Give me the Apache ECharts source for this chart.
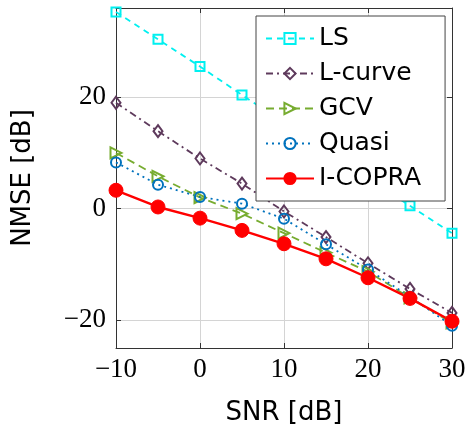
<!DOCTYPE html>
<html><head><meta charset="utf-8">
<script src="https://cdn.jsdelivr.net/npm/echarts@6/dist/echarts.min.js"></script>
<style>html,body{margin:0;padding:0;background:#fff}#c{width:467px;height:427px}</style>
</head><body><div id="c"></div>
<script>
const snr = [-10, -5, 0, 5, 10, 15, 20, 25, 30];
const lsValues = [35.3, 30.4, 25.5, 20.4, 15.4, 10.4, 5.5, 0.5, -4.4];
const lcurveValues = [19.0, 13.9, 9.0, 4.5, -0.5, -5.1, -9.8, -14.4, -18.7];
const gcvValues = [10.0, 5.8, 2.0, -0.9, -4.4, -7.9, -11.3, -16.0, -20.5];
const quasiValues = [8.3, 4.3, 2.1, 0.9, -1.8, -6.4, -10.9, -15.8, -21.0];
const icopraValues = [3.3, 0.3, -1.7, -3.9, -6.3, -9.0, -12.4, -16.1, -20.2];
const seriesNames = ['LS', 'L-curve', 'GCV', 'Quasi', 'I-COPRA'];
const yTicks = [-20, 0, 20];
const xRange = [-10, 30];
const yRange = [-25, 36];

const pairs = v => snr.map((x, i) => [x, v[i]]);
const fmt = v => String(v).replace('-', '\u2212');
const axisColor = '#333';
const tickFont = {fontFamily: 'Liberation Serif', fontSize: 27, color: '#000'};

const chart = echarts.init(document.getElementById('c'), null, {renderer: 'canvas'});
function mk(name, data, color, lineType, symbol, size, opts) {
  return Object.assign({
    name, type: 'line', data: pairs(data), xAxisIndex: 0, yAxisIndex: 0,
    symbol, symbolSize: size, showSymbol: true,
    lineStyle: {color, width: 1.8, type: lineType},
    itemStyle: {color: 'rgba(255,255,255,0)', borderColor: color, borderWidth: 2},
    emphasis: {disabled: true}, animation: false
  }, opts || {});
}
chart.setOption({
  animation: false,
  grid: {left: 116, right: 15, top: 8, bottom: 79, outerBoundsMode: 'none', containLabel: false},
  legend: {
    orient: 'vertical', left: 256, top: 16,
    data: seriesNames,
    padding: [10, 24, 10, 9],
    itemWidth: 48, itemHeight: 14, itemGap: 10,
    borderColor: '#444', borderWidth: 1, backgroundColor: '#fff',
    textStyle: {fontFamily: 'DejaVu Sans', fontSize: 25, lineHeight: 25, color: '#000'},
    selectedMode: false
  },
  xAxis: [{
    type: 'value', min: xRange[0], max: xRange[1], interval: 10,
    name: 'SNR [dB]', nameLocation: 'middle', nameGap: 52,
    nameTextStyle: {fontFamily: 'DejaVu Sans', fontSize: 26, color: '#000'},
    axisLine: {show: true, onZero: false, lineStyle: {color: axisColor, width: 1}},
    axisTick: {show: true, inside: true, length: 5, lineStyle: {color: axisColor}},
    axisLabel: Object.assign({margin: 8, formatter: fmt}, tickFont),
    splitLine: {show: true, lineStyle: {color: '#d4d4d4', width: 1}}
  }, {
    type: 'value', position: 'top', min: xRange[0], max: xRange[1], interval: 10,
    axisLine: {show: true, onZero: false, lineStyle: {color: axisColor, width: 1}},
    axisTick: {show: true, inside: true, length: 5, lineStyle: {color: axisColor}},
    axisLabel: {show: false}, splitLine: {show: false}
  }],
  yAxis: [{
    type: 'value', min: yRange[0], max: yRange[1],
    name: 'NMSE [dB]', nameLocation: 'middle', nameGap: 80,
    nameTextStyle: {fontFamily: 'DejaVu Sans', fontSize: 26, color: '#000'},
    axisLine: {show: true, onZero: false, lineStyle: {color: axisColor, width: 1}},
    axisTick: {show: true, inside: true, length: 5, customValues: yTicks, lineStyle: {color: axisColor}},
    axisLabel: Object.assign({margin: 10, customValues: yTicks, formatter: fmt}, tickFont),
    splitLine: {show: true, lineStyle: {color: '#d4d4d4', width: 1}}
  }, {
    type: 'value', position: 'right', min: yRange[0], max: yRange[1],
    axisLine: {show: true, onZero: false, lineStyle: {color: axisColor, width: 1}},
    axisTick: {show: true, inside: true, length: 5, customValues: yTicks, lineStyle: {color: axisColor}},
    axisLabel: {show: false}, splitLine: {show: false}
  }],
  series: [
    mk('LS', lsValues, '#00f0f0', [6, 5], 'rect', 9),
    mk('L-curve', lcurveValues, '#5e3a5c', [7, 4, 2, 4], 'diamond', [9, 12]),
    mk('GCV', gcvValues, '#77ac30', [8, 5], 'triangle', 11, {symbolRotate: -90}),
    mk('Quasi', quasiValues, '#0072bd', [2, 4], 'circle', 10),
    mk('I-COPRA', icopraValues, '#ff0000', 'solid', 'circle', 14,
       {itemStyle: {color: '#ff0000', borderColor: '#ff0000', borderWidth: 1}, lineStyle: {color: '#ff0000', width: 2.4, type: 'solid'}})
  ]
});
</script></body></html>
